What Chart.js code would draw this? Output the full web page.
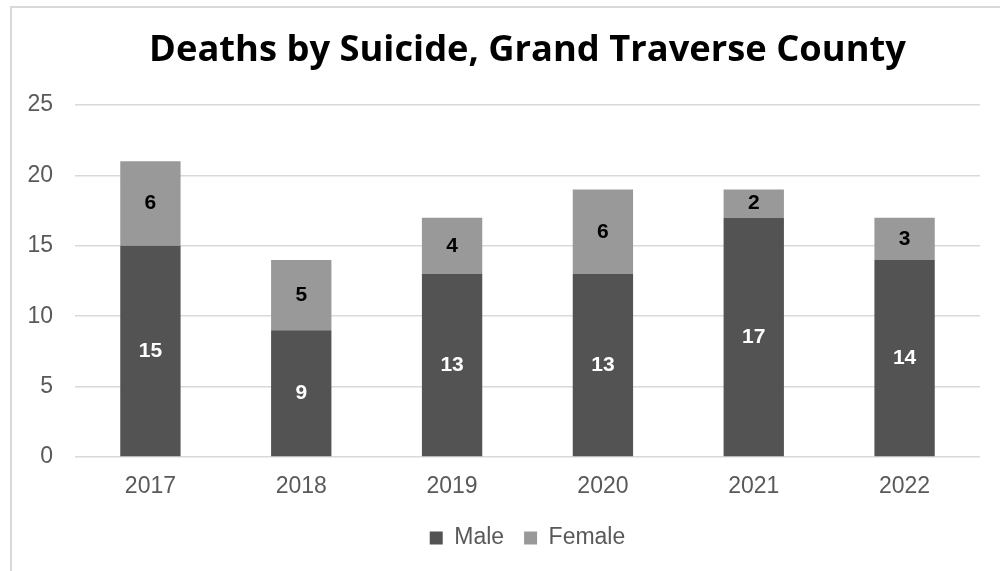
<!DOCTYPE html>
<html>
<head>
<meta charset="utf-8">
<script src="https://cdn.jsdelivr.net/npm/chart.js@4.4.0/dist/chart.umd.min.js"></script>
<style>
  html, body { margin: 0; padding: 0; background: #fff; }
  #frame {
    position: absolute; left: 10px; top: 6px;
    width: 1100px; height: 700px;
    border: 2px solid #d9d9d9;
  }
  #rateChart { position: absolute; left: 0; top: 0; }
</style>
</head>
<body>
<div id="frame"></div>
<canvas id="rateChart" width="1000" height="571"></canvas>
<script>
const years = ["2017", "2018", "2019", "2020", "2021", "2022"];
const maleDeaths = [15, 9, 13, 13, 17, 14];
const femaleDeaths = [6, 5, 4, 6, 2, 3];
const yTicks = [0, 5, 10, 15, 20, 25];
const titleText = "Deaths by Suicide, Grand Traverse County";

const ctx = document.getElementById("rateChart").getContext("2d");

// pick a title size so the line is about as wide as the original one
const titleFamily = "'Open Sans', sans-serif";
ctx.font = "bold 100px " + titleFamily;
const titleSize = Math.round(100 * 757 / ctx.measureText(titleText).width * 10) / 10;

// Numbers in the middle of each stacked segment
const segmentLabels = {
  id: "segmentLabels",
  afterDatasetsDraw(chart) {
    const c = chart.ctx;
    c.save();
    c.font = "bold 21px 'Liberation Sans', Arial, sans-serif";
    c.textAlign = "center";
    c.textBaseline = "middle";
    chart.data.datasets.forEach((ds, i) => {
      const meta = chart.getDatasetMeta(i);
      c.fillStyle = i === 0 ? "#ffffff" : "#000000";
      meta.data.forEach((bar, j) => {
        c.fillText(String(ds.data[j]), bar.x, (bar.y + bar.base) / 2);
      });
    });
    c.restore();
  }
};

const chart = new Chart(ctx, {
  type: "bar",
  data: {
    labels: years,
    datasets: [
      { label: "Male", data: maleDeaths, backgroundColor: "#535353" },
      { label: "Female", data: femaleDeaths, backgroundColor: "#999999" }
    ]
  },
  options: {
    responsive: false,
    animation: false,
    devicePixelRatio: 1,
    categoryPercentage: 1,
    barPercentage: 0.4,
    layout: { padding: { left: 0, right: 20, top: 0, bottom: 11.5 } },
    plugins: {
      title: {
        display: true,
        text: titleText,
        fullSize: false,
        color: "#000000",
        font: { family: titleFamily, size: titleSize, weight: "bold", lineHeight: 1.2 },
        padding: { top: 51 - titleSize * 0.6, bottom: 54 - titleSize * 0.6 }
      },
      legend: {
        position: "bottom",
        fullSize: false,
        labels: {
          color: "#595959",
          boxWidth: 13,
          boxHeight: 13,
          padding: 20,
          font: { family: "'Liberation Sans', Arial, sans-serif", size: 23 }
        }
      },
      tooltip: { enabled: false }
    },
    scales: {
      x: {
        stacked: true,
        grid: { display: false, drawTicks: false },
        border: { display: false },
        ticks: {
          color: "#595959",
          padding: 16,
          font: { family: "'Liberation Sans', Arial, sans-serif", size: 23 }
        },
        afterFit(scale) { scale.height = 49.5; }
      },
      y: {
        stacked: true,
        min: 0,
        max: 25,
        afterBuildTicks(scale) { scale.ticks = yTicks.map(v => ({ value: v })); },
        grid: { color: "#d9d9d9", lineWidth: 1.5, drawTicks: false },
        border: { display: false },
        ticks: {
          color: "#595959",
          padding: 22,
          font: { family: "'Liberation Sans', Arial, sans-serif", size: 23 }
        },
        afterFit(scale) { scale.width = 75; }
      }
    }
  },
  plugins: [segmentLabels]
});
</script>
</body>
</html>
